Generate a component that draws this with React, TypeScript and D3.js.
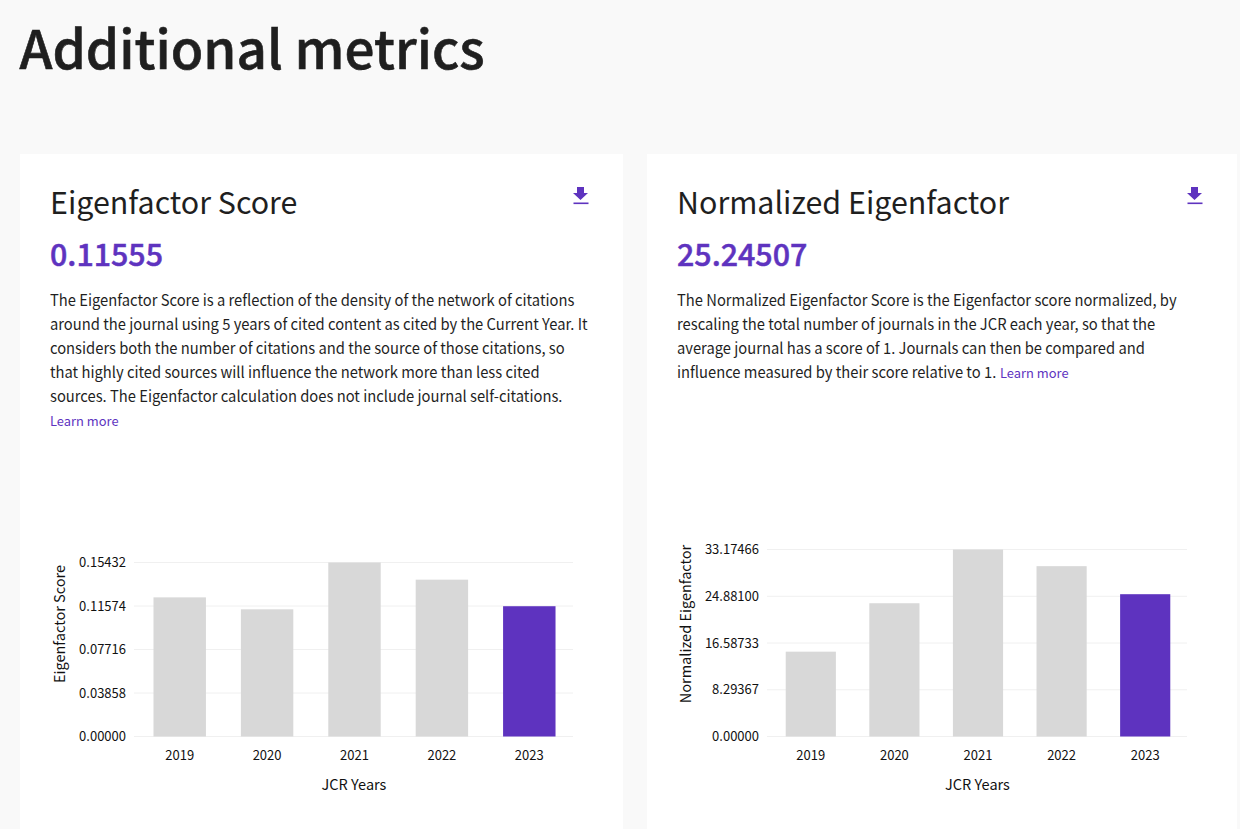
import { useEffect, useRef } from "react";
import * as d3 from "d3";

const FONT = '"Noto Sans CJK SC", "Noto Sans", sans-serif';
const PURPLE = "#5e33bf";
const INK = "#1f1f1f";

const years = ["2019", "2020", "2021", "2022", "2023"];

const eigenValues = [0.1234, 0.1128, 0.15432, 0.1391, 0.11555];
const eigenTicks = [0, 0.03858, 0.07716, 0.11574, 0.15432];
const eigenText = [
  "The Eigenfactor Score is a reflection of the density of the network of citations",
  "around the journal using 5 years of cited content as cited by the Current Year. It",
  "considers both the number of citations and the source of those citations, so",
  "that highly cited sources will influence the network more than less cited",
  "sources. The Eigenfactor calculation does not include journal self-citations.",
];

const normValues = [15.05, 23.64, 33.17466, 30.22, 25.24507];
const normTicks = [0, 8.29367, 16.58733, 24.881, 33.17466];
const normText = [
  "The Normalized Eigenfactor Score is the Eigenfactor score normalized, by",
  "rescaling the total number of journals in the JCR each year, so that the",
  "average journal has a score of 1. Journals can then be compared and",
  "influence measured by their score relative to 1.",
];

interface Panel {
  title: string;
  score: string;
  text: string[];
  values: number[];
  ticks: number[];
  cardX: number;
  cardW: number;
  gridLeft: number;
  bandLeft: number;
  right: number;
  top: number;
  bottom: number;
  yLabelX: number;
  learnX: number;
  learnY: number;
  iconX: number;
}

const panels: Panel[] = [
  {
    title: "Eigenfactor Score",
    score: "0.11555",
    text: eigenText,
    values: eigenValues,
    ticks: eigenTicks,
    cardX: 20,
    cardW: 603,
    gridLeft: 134,
    bandLeft: 136,
    right: 573,
    top: 562.5,
    bottom: 736.5,
    yLabelX: 65,
    learnX: 50,
    learnY: 426,
    iconX: 581,
  },
  {
    title: "Normalized Eigenfactor",
    score: "25.24507",
    text: normText,
    values: normValues,
    ticks: normTicks,
    cardX: 647,
    cardW: 590,
    gridLeft: 767,
    bandLeft: 769,
    right: 1187,
    top: 549.5,
    bottom: 736.5,
    yLabelX: 691,
    learnX: 1000,
    learnY: 378,
    iconX: 1195,
  },
];

export default function App() {
  const svgRef = useRef<SVGSVGElement | null>(null);

  useEffect(() => {
    const svg = d3.select(svgRef.current);
    svg.selectAll("*").remove();
    svg.style("font-family", FONT);

    svg.append("rect").attr("width", 1240).attr("height", 829).attr("fill", "#f9f9f9");

    svg
      .append("text")
      .attr("x", 19.5)
      .attr("y", 69)
      .attr("font-size", 53)
      .attr("font-weight", 500)
      .attr("stroke", INK)
      .attr("stroke-width", 0.6)
      .attr("fill", INK)
      .text("Additional metrics");

    panels.forEach((p) => {
      const g = svg.append("g");
      const textX = p.cardX + 30;

      g.append("rect")
        .attr("x", p.cardX)
        .attr("y", 154)
        .attr("width", p.cardW)
        .attr("height", 675)
        .attr("fill", "#fff");

      g.append("text")
        .attr("x", textX)
        .attr("y", 214)
        .attr("font-size", 30.4)
        .attr("fill", INK)
        .text(p.title);

      g.append("text")
        .attr("x", textX)
        .attr("y", 266)
        .attr("font-size", 30.4)
        .attr("font-weight", 500)
        .attr("stroke", PURPLE)
        .attr("stroke-width", 0.5)
        .attr("fill", PURPLE)
        .text(p.score);

      // body copy is narrower than the installed font, so squeeze it a bit
      g.selectAll("text.line")
        .data(p.text)
        .join("text")
        .attr("class", "line")
        .attr("transform", (_, i) => `translate(${textX},${306 + i * 24}) scale(0.958,1)`)
        .attr("font-size", 15.4)
        .attr("fill", INK)
        .text((d) => d);

      g.append("text")
        .attr("x", p.learnX)
        .attr("y", p.learnY)
        .attr("font-size", 12.9)
        .attr("fill", PURPLE)
        .text("Learn more");

      // download icon
      g.append("path")
        .attr("d", d3.line()([[-4, -9], [3, -9], [3, -3], [7, -3], [-0.5, 4], [-8, -3], [-4, -3]]) + "Z")
        .attr("transform", `translate(${p.iconX},196)`)
        .attr("fill", PURPLE);
      g.append("rect")
        .attr("x", p.iconX - 7.5)
        .attr("y", 202.5)
        .attr("width", 15)
        .attr("height", 1.6)
        .attr("fill", PURPLE);

      const x = d3.scaleBand().domain(years).range([p.bandLeft, p.right]);
      x.paddingInner(0.4).paddingOuter(0.2);
      const y = d3
        .scaleLinear()
        .domain([0, p.ticks[p.ticks.length - 1]])
        .range([p.bottom, p.top]);

      g.selectAll("line.grid")
        .data(p.ticks)
        .join("line")
        .attr("class", "grid")
        .attr("x1", p.gridLeft)
        .attr("x2", p.right)
        .attr("y1", (d) => y(d))
        .attr("y2", (d) => y(d))
        .attr("stroke", "#f0f0f0");

      g.selectAll("text.ytick")
        .data(p.ticks)
        .join("text")
        .attr("class", "ytick")
        .attr("x", p.gridLeft - 8)
        .attr("y", (d) => y(d) + 4.5)
        .attr("text-anchor", "end")
        .attr("font-size", 13)
        .attr("fill", "#111")
        .text((d) => d.toFixed(5));

      g.selectAll("rect.bar")
        .data(p.values)
        .join("rect")
        .attr("class", "bar")
        .attr("x", (_, i) => x(years[i])!)
        .attr("y", (d) => y(d))
        .attr("width", x.bandwidth())
        .attr("height", (d) => p.bottom - y(d))
        .attr("fill", (_, i) => (i === years.length - 1 ? PURPLE : "#d8d8d8"));

      g.selectAll("text.xtick")
        .data(years)
        .join("text")
        .attr("class", "xtick")
        .attr("x", (d) => x(d)! + x.bandwidth() / 2)
        .attr("y", 760)
        .attr("text-anchor", "middle")
        .attr("font-size", 13)
        .attr("fill", "#111")
        .text((d) => d);

      g.append("text")
        .attr("x", (p.bandLeft + p.right) / 2 - 0.5)
        .attr("y", 790)
        .attr("text-anchor", "middle")
        .attr("font-size", 14.5)
        .attr("fill", "#111")
        .text("JCR Years");

      g.append("text")
        .attr("transform", `translate(${p.yLabelX},624) rotate(-90)`)
        .attr("text-anchor", "middle")
        .attr("font-size", 14.5)
        .attr("fill", "#111")
        .text(p.title);
    });
  }, []);

  return (
    <svg
      ref={svgRef}
      width={1240}
      height={829}
      style={{ position: "absolute", left: 0, top: 0 }}
    ></svg>
  );
}
